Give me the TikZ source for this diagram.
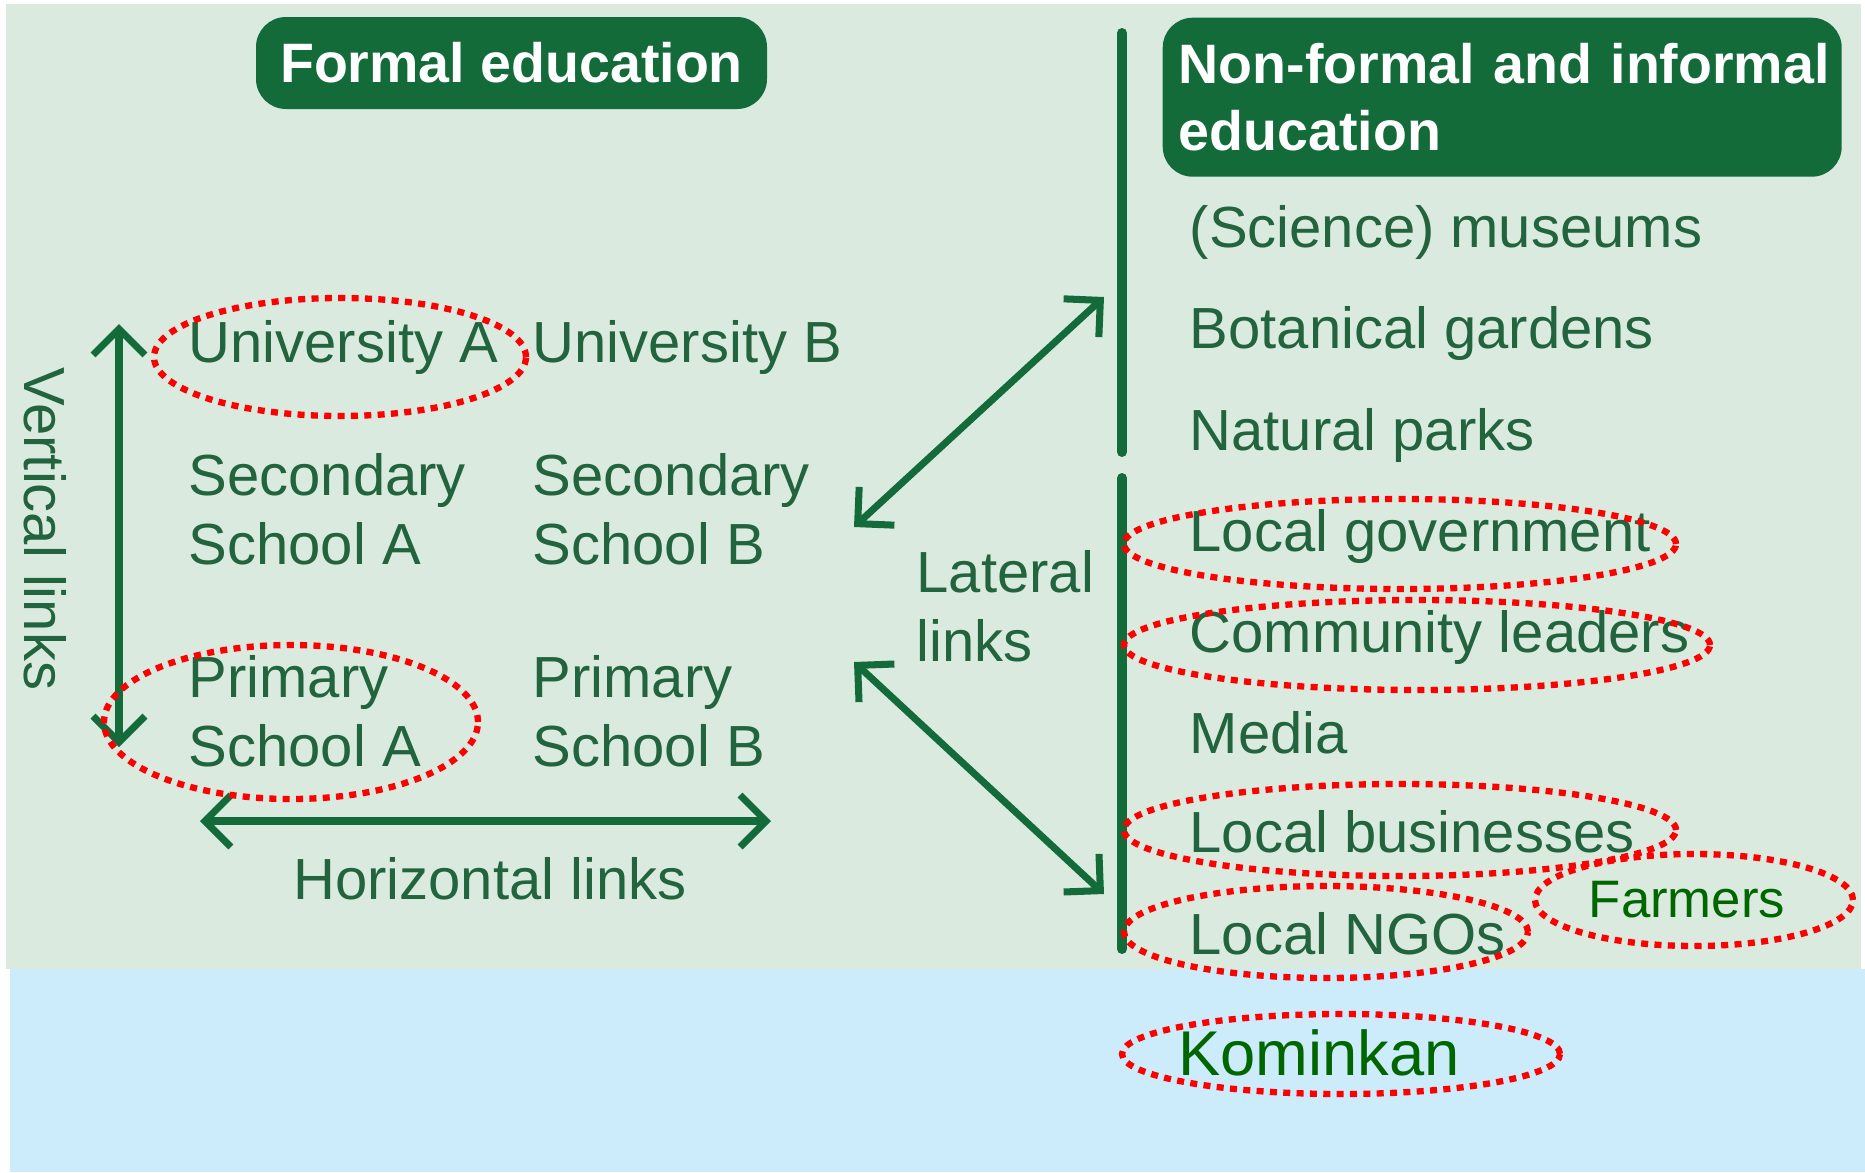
\documentclass[tikz,border=0pt]{standalone}
\usepackage{fontspec}
\setmainfont{Liberation Sans}
\usepackage{tikz}
\usetikzlibrary{arrows.meta,shapes.geometric}

\definecolor{panelgreen}{RGB}{219,234,223}
\definecolor{panelblue}{RGB}{204,236,252}
\definecolor{darkgreen}{RGB}{19,107,58}
\definecolor{textgreen}{RGB}{33,100,62}
\definecolor{plaingreen}{RGB}{0,102,0}

\begin{document}
\begin{tikzpicture}
\tikzstyle{item}=[anchor=base west, inner sep=0pt, text=textgreen, font=\fontsize{16.5}{19.5}\selectfont, align=left]
\tikzstyle{head}=[fill=darkgreen, rounded corners=0.3cm, text=white, font=\bfseries\fontsize{15.8}{19.3}\selectfont]
\tikzstyle{link}=[darkgreen, line width=2pt, {Straight Barb[length=2.6mm,width=5.2mm]}-{Straight Barb[length=2.6mm,width=5.2mm]}]
\tikzstyle{bar}=[darkgreen, line width=0.1cm, line cap=round]
\tikzstyle{ring}=[ellipse, draw=red, line width=1.8pt, dash pattern=on 2pt off 1.8pt, inner sep=0pt]

\useasboundingbox (0,0) rectangle (18.65,-11.72);
\fill[panelgreen] (0.06,-0.04) rectangle (18.61,-9.69);
\fill[panelblue] (0.10,-9.69) rectangle (18.65,-11.72);

\node[head, minimum width=5.11cm, minimum height=0.92cm] (formal) at (5.115,-0.63) {Formal education};
\node[head, anchor=north west, minimum width=6.79cm, minimum height=1.59cm,
    text width=6.47cm, inner xsep=0.16cm, align=left] (nonformal) at (11.62,-0.17) {\mbox{Non-formal and informal}\\education};

\node[item] (uniA) at (1.88,-3.62) {University A};
\node[item] (uniB) at (5.32,-3.62) {University B};
\node[item] (secA) at (1.88,-5.64) {Secondary\\School A};
\node[item] (secB) at (5.32,-5.64) {Secondary\\School B};
\node[item] (priA) at (1.88,-7.66) {Primary\\School A};
\node[item] (priB) at (5.32,-7.66) {Primary\\School B};

\node[item, rotate=-90, anchor=center] (vlinks) at (0.45,-5.29) {Vertical links};
\node[item, anchor=base] (hlinks) at (4.90,-8.99) {Horizontal links};
\node[item] (llinks) at (9.16,-6.61) {Lateral\\links};

\node[item] (museums) at (11.89,-2.47) {(Science) museums};
\node[item] (gardens) at (11.89,-3.48) {Botanical gardens};
\node[item] (parks) at (11.89,-4.50) {Natural parks};
\node[item] (gov) at (11.89,-5.51) {Local government};
\node[item] (leaders) at (11.89,-6.52) {Community leaders};
\node[item] (media) at (11.89,-7.53) {Media};
\node[item] (business) at (11.89,-8.52) {Local businesses};
\node[item] (ngos) at (11.89,-9.54) {Local NGOs};

\node[text=plaingreen, font=\fontsize{15}{18}\selectfont] (farmers) at (16.87,-9.00) {Farmers};
\node[text=plaingreen, font=\fontsize{18}{21}\selectfont] (kominkan) at (13.19,-10.53) {Kominkan};

\coordinate (vtop) at (1.19,-3.24);
\coordinate (vbot) at (1.19,-7.47);
\coordinate (hleft) at (2.00,-8.21);
\coordinate (hright) at (7.71,-8.21);
\coordinate (ltopA) at (8.54,-5.27);
\coordinate (ltopB) at (11.04,-2.97);
\coordinate (lbotA) at (8.54,-6.62);
\coordinate (lbotB) at (11.04,-8.94);
\coordinate (bar1a) at (11.22,-0.33);
\coordinate (bar1b) at (11.22,-4.52);
\coordinate (bar2a) at (11.22,-4.78);
\coordinate (bar2b) at (11.22,-9.49);

\draw[link] (vtop)--(vbot);
\draw[link] (hleft)--(hright);
\draw[link] (ltopA)--(ltopB);
\draw[link] (lbotA)--(lbotB);
\draw[bar] (bar1a)--(bar1b);
\draw[bar] (bar2a)--(bar2b);

\node[ring, minimum width=3.72cm, minimum height=1.18cm] (ringUA) at (3.40,-3.57) {};
\node[ring, minimum width=3.74cm, minimum height=1.54cm] (ringPA) at (2.91,-7.22) {};
\node[ring, minimum width=5.52cm, minimum height=0.90cm] (ringGov) at (14.00,-5.44) {};
\node[ring, minimum width=5.86cm, minimum height=0.90cm] (ringLeaders) at (14.17,-6.45) {};
\node[ring, minimum width=5.52cm, minimum height=0.92cm] (ringBusiness) at (14.00,-8.30) {};
\node[ring, minimum width=4.04cm, minimum height=0.92cm] (ringNgos) at (13.26,-9.32) {};
\node[ring, minimum width=3.18cm, minimum height=0.92cm] (ringFarmers) at (16.94,-9.00) {};
\node[ring, minimum width=4.38cm, minimum height=0.80cm] (ringKominkan) at (13.41,-10.54) {};
\end{tikzpicture}
\end{document}
